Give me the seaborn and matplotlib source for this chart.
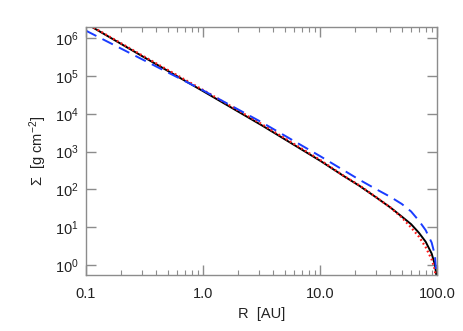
import matplotlib
matplotlib.use("Agg")
import matplotlib.pyplot as plt
import matplotlib.ticker as mticker
import pandas as pd
import seaborn as sns

# radius [AU] and surface density [g cm^-2]
r_black = [0.1, 0.316, 1.0, 3.16, 10.0, 15.8, 21.8, 30.0, 40.0, 50.0, 60.0, 70.0, 80.0, 90.0, 96.0, 99.0, 100.0]
sigma_black = [2.45e6, 3.09e5, 3.98e4, 5.0e3, 575, 229, 123, 62, 33, 19, 12, 7.1, 4.1, 2.0, 1.0, 0.5, 0.2]

r_red = [0.1, 0.316, 1.0, 3.16, 10.0, 15.8, 21.8, 30.0, 40.0, 50.0, 60.0, 70.0, 80.0, 90.0, 96.0, 100.0]
sigma_red = [2.5e6, 3.24e5, 4.27e4, 5.37e3, 603, 232, 126, 63, 33, 18, 9.8, 5.6, 2.95, 1.4, 0.74, 0.15]

r_blue = [0.1, 0.316, 1.0, 3.16, 10.0, 21.8, 30.0, 40.0, 50.0, 60.0, 70.0, 80.0, 90.0, 96.0, 100.0]
sigma_blue = [1.58e6, 2.57e5, 4.17e4, 6.0e3, 759, 178, 102, 63, 41, 26, 14.8, 8.3, 3.9, 1.8, 0.3]

x_ticks = [0.1, 1.0, 10.0, 100.0]
x_tick_labels = ["0.1", "1.0", "10.0", "100.0"]
y_ticks = [1e0, 1e1, 1e2, 1e3, 1e4, 1e5, 1e6]

df = pd.concat([
    pd.DataFrame({"R": r_black, "sigma": sigma_black, "model": "a"}),
    pd.DataFrame({"R": r_red, "sigma": sigma_red, "model": "b"}),
    pd.DataFrame({"R": r_blue, "sigma": sigma_blue, "model": "c"}),
])

sns.set_style("ticks")
plt.rcParams["font.family"] = ["Liberation Sans", "DejaVu Sans"]
plt.rcParams["mathtext.fontset"] = "custom"
plt.rcParams["mathtext.rm"] = "Liberation Sans"
plt.rcParams["mathtext.it"] = "Liberation Sans"

fig = plt.figure(figsize=(4.63, 3.31), dpi=100)
ax = fig.add_axes([86 / 463, 1 - 275 / 331, (437 - 86) / 463, (275 - 27) / 331])

sns.lineplot(data=df[df.model == "a"], x="R", y="sigma", color="black", lw=1.4, ax=ax, sort=False)
sns.lineplot(data=df[df.model == "b"], x="R", y="sigma", color="#ff1a1a", lw=1.6, ax=ax,
             sort=False, linestyle=(0, (0.8, 1.2)))
sns.lineplot(data=df[df.model == "c"], x="R", y="sigma", color="#1a3cff", lw=1.4, ax=ax,
             sort=False, linestyle=(0, (6, 3.5)))

ax.set_xscale("log")
ax.set_yscale("log")
ax.set_xlim(0.1, 100)
ax.set_ylim(0.54, 1.98e6)

ax.set_xticks(x_ticks)
ax.set_xticklabels(x_tick_labels)
ax.xaxis.set_minor_locator(mticker.LogLocator(base=10, subs=range(2, 10)))
ax.set_yticks(y_ticks)
ax.yaxis.set_major_formatter(mticker.LogFormatterSciNotation())
ax.yaxis.set_minor_locator(mticker.NullLocator())

for s in ax.spines.values():
    s.set_color("#8c8c8c")
    s.set_linewidth(1.0)
ax.tick_params(which="both", direction="in", top=True, right=True, color="#8c8c8c",
               labelcolor="#222222", labelsize=10.5)
ax.tick_params(which="major", length=7, width=1.0, pad=5)
ax.tick_params(which="minor", length=3.5, width=0.8)
ax.tick_params(axis="x", which="major", pad=9)

ax.set_xlabel("R  [AU]", fontsize=10.5, color="#222222")
ax.set_ylabel("Σ  [g cm$^{-2}$]", fontsize=10.5, color="#222222")
ax.xaxis.set_label_coords(0.5, -0.13)
ax.yaxis.set_label_coords(-0.105, 0.5)

fig.savefig("out.png", dpi=100)
